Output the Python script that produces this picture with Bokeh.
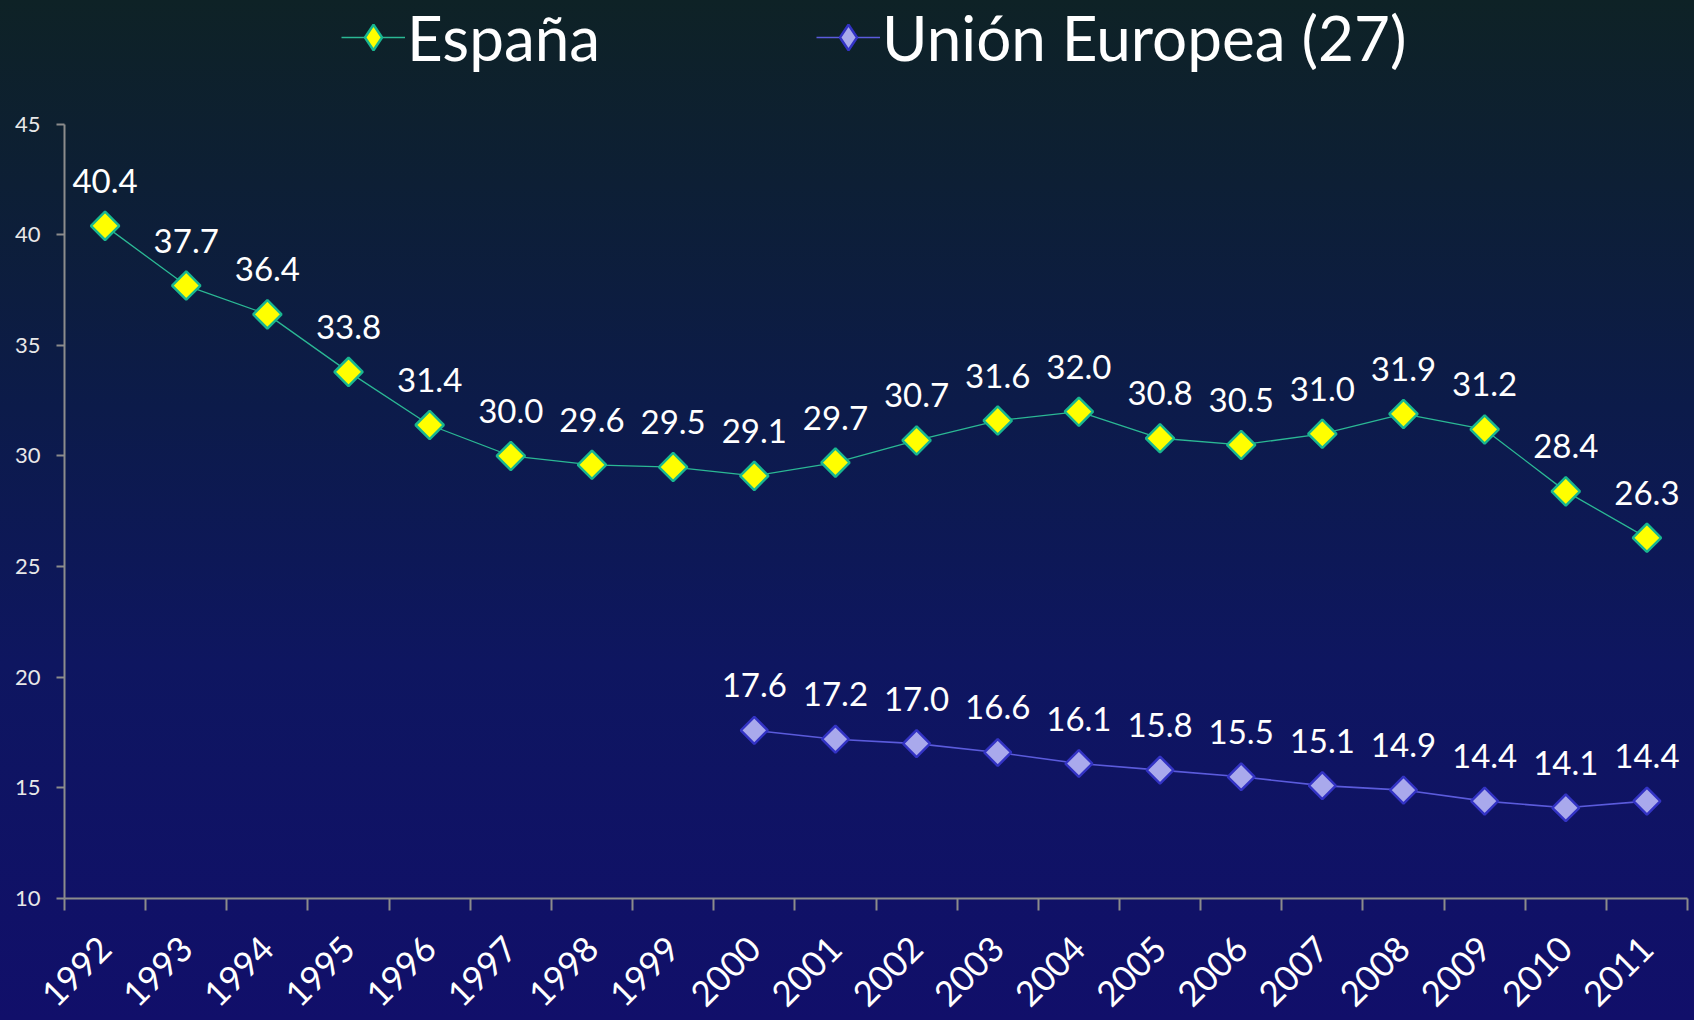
import numpy as np
from bokeh.plotting import figure
from bokeh.models import Range1d, FixedTicker, Legend, LegendItem
from bokeh.core.properties import value
from bokeh.embed import file_html
from bokeh.resources import INLINE

# ---- data ----
years_es = [1992, 1993, 1994, 1995, 1996, 1997, 1998, 1999, 2000, 2001,
            2002, 2003, 2004, 2005, 2006, 2007, 2008, 2009, 2010, 2011]
espana = [40.4, 37.7, 36.4, 33.8, 31.4, 30.0, 29.6, 29.5, 29.1, 29.7,
          30.7, 31.6, 32.0, 30.8, 30.5, 31.0, 31.9, 31.2, 28.4, 26.3]
years_eu = [2000, 2001, 2002, 2003, 2004, 2005, 2006, 2007, 2008, 2009, 2010, 2011]
ue27 = [17.6, 17.2, 17.0, 16.6, 16.1, 15.8, 15.5, 15.1, 14.9, 14.4, 14.1, 14.4]
y_ticks = [10, 15, 20, 25, 30, 35, 40, 45]
label_es = "España"
label_eu = "Unión Europea (27)"

FONT = "Lato"

# frame reaches the top of the canvas (room for the legend); the axis is bounded to 10..45
p = figure(width=1694, height=1020, output_backend="svg", toolbar_location=None,
           x_range=Range1d(years_es[0] - 0.5, years_es[-1] + 0.5),
           y_range=Range1d(10, 50.585),
           min_border_left=64, min_border_right=7, min_border_top=0, min_border_bottom=119)
# range used only for the legend's diamond swatches (kept out of view)
p.extra_y_ranges = {"legend_proxy": Range1d(1000, 1001)}

p.background_fill_color = None
p.border_fill_color = None
p.outline_line_color = None
p.styles = {"background": "linear-gradient(to bottom, #0e2226 0%, #0d1f35 18%, #0c1b4a 40%, #0e1660 65%, #110f6a 100%)"}
p.xgrid.grid_line_color = None
p.ygrid.grid_line_color = None

AX = "#8c8c8c"
# x axis: ticks at category boundaries, labels at centers
p.xaxis.ticker = FixedTicker(ticks=years_es, minor_ticks=[y - 0.5 for y in years_es] + [years_es[-1] + 0.5])
p.xaxis.major_tick_in = 0
p.xaxis.major_tick_out = 0
p.xaxis.minor_tick_in = 0
p.xaxis.minor_tick_out = 12
p.xaxis.minor_tick_line_color = AX
p.xaxis.minor_tick_line_width = 2
p.xaxis.axis_line_color = AX
p.xaxis.axis_line_width = 2
p.xaxis.major_label_orientation = np.pi / 4
p.xaxis.major_label_text_font = FONT
p.xaxis.major_label_text_font_size = "35px"
p.xaxis.major_label_text_color = "white"
p.xaxis.major_label_standoff = 32

p.yaxis.ticker = FixedTicker(ticks=y_ticks)
p.yaxis.bounds = (y_ticks[0], y_ticks[-1])
p.yaxis.major_tick_in = 0
p.yaxis.major_tick_out = 8
p.yaxis.major_tick_line_color = AX
p.yaxis.major_tick_line_width = 2
p.yaxis.minor_tick_line_color = None
p.yaxis.axis_line_color = AX
p.yaxis.axis_line_width = 2
p.yaxis.major_label_text_font = FONT
p.yaxis.major_label_text_font_size = "22px"
p.yaxis.major_label_text_color = "#e8e8e8"
p.yaxis.major_label_standoff = 16

ES_FILL, ES_LINE, ES_EDGE = "#ffff00", "#2bb894", "#19b690"
EU_FILL, EU_LINE, EU_EDGE = "#a9a9ec", "#5b5bdc", "#3333c4"

# series
l1 = p.line(years_es, espana, line_color=ES_LINE, line_width=1.3)
p.scatter(years_es, espana, marker="square", angle=np.pi / 4, size=20,
          fill_color=ES_FILL, line_color=ES_EDGE, line_width=2.5)
l2 = p.line(years_eu, ue27, line_color=EU_LINE, line_width=1.6)
p.scatter(years_eu, ue27, marker="square", angle=np.pi / 4, size=19,
          fill_color=EU_FILL, line_color=EU_EDGE, line_width=2.5)

# legend swatches (diamond marker), drawn on an out-of-view range
k1 = p.scatter(years_es, espana, marker="diamond", y_range_name="legend_proxy",
               fill_color=ES_FILL, line_color=ES_EDGE, line_width=2.5)
k2 = p.scatter(years_eu, ue27, marker="diamond", y_range_name="legend_proxy",
               fill_color=EU_FILL, line_color=EU_EDGE, line_width=2.5)

# data labels
p.text(x=years_es, y=espana, text=[f"{v:.1f}" for v in espana],
       text_align="center", text_baseline="alphabetic", y_offset=-45,
       text_font=value(FONT), text_font_size="33px", text_color="white")
p.text(x=years_eu, y=ue27, text=[f"{v:.1f}" for v in ue27],
       text_align="center", text_baseline="alphabetic", y_offset=-45,
       text_font=value(FONT), text_font_size="33px", text_color="white")

def make_legend(label, renderers, loc):
    return Legend(items=[LegendItem(label=label, renderers=renderers)],
                  location=loc, orientation="horizontal",
                  background_fill_alpha=0, border_line_color=None,
                  label_text_font=FONT, label_text_font_size="62px",
                  label_text_color="white", glyph_width=64, glyph_height=70,
                  padding=0, margin=0, label_standoff=2, spacing=0)

p.add_layout(make_legend(label_es, [l1, k1], (277, 824)))
p.add_layout(make_legend(label_eu, [l2, k2], (752, 824)))

open("out.html", "w").write(file_html(p, INLINE))
